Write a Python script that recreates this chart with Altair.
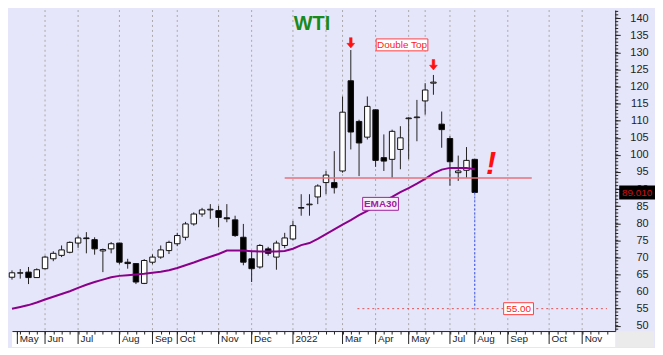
import altair as alt
import pandas as pd

# ---- data (weekly candles) ----
opens  = [64.2, 65.4, 65.7, 64.1, 66.7, 69.6, 70.6, 71.5, 74.2, 75.7,
          75.2, 71.9, 72.5, 74.2, 68.6, 68.2, 62.4, 68.6, 70.1, 72.0,
          74.0, 75.9, 79.8, 82.7, 83.9, 83.7, 81.6, 81.0, 75.9, 69.6,
          67.2, 72.5, 70.1, 73.5, 75.4, 84.4, 85.4, 87.7, 91.9, 91.9,
          95.3, 121.7, 109.8, 105.2, 113.2, 99.2, 98.7, 101.6, 110.6, 110.9,
          115.8, 121.0, 109.0, 104.8, 94.8, 95.5, 98.7]
highs  = [66.2, 66.6, 67.2, 66.8, 70.5, 71.8, 73.5, 74.7, 76.4, 77.4,
          75.9, 72.6, 74.5, 74.3, 69.6, 68.3, 69.5, 70.9, 73.5, 74.9,
          77.2, 80.4, 83.2, 84.5, 85.6, 85.1, 85.6, 82.2, 79.8, 72.0,
          73.9, 73.1, 74.9, 77.2, 80.7, 88.5, 88.5, 91.4, 95.3, 101.1,
          117.1, 130.7, 110.3, 117.1, 113.3, 106.0, 107.4, 108.4, 111.0, 116.1,
          121.0, 123.4, 112.7, 105.5, 99.8, 102.3, 98.9]
lows   = [63.5, 63.8, 62.2, 64.0, 66.5, 68.9, 70.1, 71.2, 72.8, 71.2,
          70.8, 65.7, 71.2, 68.0, 66.7, 62.2, 62.2, 68.0, 69.6, 71.0,
          73.3, 75.0, 79.3, 81.9, 81.3, 78.8, 80.3, 76.0, 67.7, 62.8,
          66.7, 70.5, 66.4, 72.7, 75.0, 82.2, 82.2, 85.6, 88.5, 88.7,
          94.8, 101.6, 93.8, 104.5, 96.5, 95.3, 93.3, 95.8, 98.7, 104.0,
          111.8, 117.6, 102.1, 91.0, 92.4, 93.3, 89.0]
closes = [65.5, 65.5, 64.1, 66.4, 70.1, 71.2, 72.2, 74.4, 75.7, 75.5,
          72.5, 72.3, 74.0, 68.6, 68.2, 62.8, 69.1, 70.1, 72.2, 74.4,
          76.4, 79.8, 82.7, 83.9, 84.1, 81.7, 81.3, 76.4, 68.6, 66.7,
          73.5, 71.2, 74.2, 75.7, 79.3, 84.6, 85.6, 90.9, 94.1, 90.4,
          112.5, 106.7, 103.5, 114.2, 98.4, 98.2, 106.9, 105.0, 110.8, 111.1,
          119.0, 121.3, 107.4, 98.0, 95.3, 98.4, 89.01]
ema30  = [55.0, 55.5, 56.05, 56.8, 57.7, 58.5, 59.3, 60.1, 61.1, 62.0,
          62.8, 63.5, 64.2, 64.6, 64.8, 65.0, 65.2, 65.5, 65.8, 66.25,
          66.9, 67.7, 68.5, 69.4, 70.2, 71.0, 72.0, 72.0, 72.0, 71.8,
          71.75, 71.75, 71.75, 71.9, 72.55, 73.6, 74.2, 75.4, 76.8, 78.2,
          79.6, 80.9, 82.35, 83.65, 85.0, 86.45, 87.7, 89.1, 90.3, 91.6,
          93.0, 94.6, 95.7, 96.2, 96.2, 96.2, 95.8]

month_idx = [0.65, 4, 8, 13, 17, 20, 25, 29, 34, 40, 44, 48, 53, 56, 60, 65, 69]
month_lbl = ["May", "Jun", "Jul", "Aug", "Sep", "Oct", "Nov", "Dec", "2022",
             "Mar", "Apr", "May", "Jul", "Aug", "Sep", "Oct", "Nov"]
grid_idx = [4, 8, 13, 17, 20, 25, 29, 34, 38, 40, 44, 48, 50, 53, 56, 60, 65, 69]
y_major = list(range(50, 145, 5))
y_minor = list(range(49, 143))

support = 93.27          # horizontal neckline
support_span = [33.0, 62.9]
target = 55.0
target_span = [41.8, 72.0]
ema_label = ("EMA30", 44.6, 85.68)
dtop_label = ("Double Top", 47.2, 132.2)
arrow_i = [41, 51]
arrow_v = [132.8, 126.4]
title_pos = ("WTI", 36.3, 136.6)
excl_pos = ("!", 57.97, 94.4)

W, H = 607, 323
n = len(closes)
df = pd.DataFrame({"i": list(range(n)), "o": opens, "h": highs, "l": lows,
                   "c": closes, "ema": ema30})

xs = alt.Scale(domain=[0.6, 72.4], nice=False, zero=False)
ys = alt.Scale(domain=[142.4 - H / 3.438, 142.4], nice=False, zero=False)

expr = "''"
for m, l in reversed(list(zip(month_idx, month_lbl))):
    expr = f"datum.value == {m} ? '{l}' : ({expr})"
xvals = sorted(set([month_idx[0]] + list(range(1, 73))))

FONT = "Liberation Sans"
xaxis = alt.Axis(values=xvals, labelExpr=expr, tickSize=3, tickColor="#222",
                 domainColor="#222", labelAlign="left", labelBaseline="top",
                 labelOffset=2, labelPadding=0, labelFontSize=10, labelFont=FONT,
                 labelColor="#222", labelOverlap=False, labelFlush=False,
                 grid=False, title=None, zindex=1)
yaxis = alt.Axis(orient="right", values=y_major, tickSize=5, labelAlign="right",
                 labelPadding=28, labelFontSize=11, labelFont=FONT,
                 labelColor="#222", domainColor="#222", tickColor="#222",
                 grid=False, title=None, labelBaseline="middle", zindex=0)


def X(f):
    return alt.X(f, type="quantitative", scale=xs, axis=xaxis)


def Y(f):
    return alt.Y(f, type="quantitative", scale=ys, axis=yaxis)


one = pd.DataFrame({"a": [0]})

strip = alt.Chart(one).mark_rect(color="white", clip=False).encode(
    x=alt.value(0), x2=alt.value(W), y=alt.value(H + 0.5), y2=alt.value(H + 16))
corner = alt.Chart(one).mark_rect(color="#EBEBEB", clip=False).encode(
    x=alt.value(W + 1), x2=alt.value(W + 39), y=alt.value(H + 0.5), y2=alt.value(H + 16))

grid = alt.Chart(pd.DataFrame({"g": grid_idx})).mark_rule(
    color="#A8A8A8", strokeDash=[2, 3], strokeWidth=1).encode(x=X("g"))

seps = alt.Chart(pd.DataFrame({"m": month_idx})).mark_rule(
    color="#222", strokeWidth=1, clip=False).encode(
    x=X("m"), y=alt.value(H), y2=alt.value(H + 13))

wicks = alt.Chart(df).mark_rule(color="#222", strokeWidth=1).encode(
    x=X("i"), y=Y("l"), y2="h")
bodies = alt.Chart(df).mark_bar(width=5.5, stroke="#111", strokeWidth=1).encode(
    x=X("i"), y=Y("o"), y2="c",
    fill=alt.condition("datum.c >= datum.o", alt.value("white"), alt.value("black")))

ema = alt.Chart(df).mark_line(color="#8B008B", strokeWidth=2).encode(
    x=X("i"), y=Y("ema"))

sup = alt.Chart(pd.DataFrame({"a": [support_span[0]], "b": [support_span[1]], "v": [support]})).mark_rule(
    color="#E8707A", strokeWidth=1.5).encode(x=X("a"), x2="b", y=Y("v"))

tgt = alt.Chart(pd.DataFrame({"a": [target_span[0]], "b": [target_span[1]], "v": [target]})).mark_rule(
    color="#E05050", strokeWidth=1, strokeDash=[2, 3]).encode(x=X("a"), x2="b", y=Y("v"))

proj = alt.Chart(pd.DataFrame({"i": [n - 1], "a": [closes[-1]], "b": [target]})).mark_rule(
    color="#3050FF", strokeWidth=1, strokeDash=[2, 2]).encode(x=X("i"), y=Y("a"), y2="b")


def box(text, i, v, w, h, stroke, fill, color, size=10, weight="normal"):
    d = pd.DataFrame({"t": [text], "i": [i], "v": [v]})
    r = h / w
    shape = f"M-1,-{r:.4f}H1V{r:.4f}H-1Z"
    b = alt.Chart(d).mark_point(shape=shape, size=w * w, filled=True, fill=fill,
                                stroke=stroke, strokeWidth=1, opacity=1).encode(
        x=X("i"), y=Y("v"))
    t = alt.Chart(d).mark_text(font=FONT, fontSize=size, color=color, fontWeight=weight,
                               align="center", baseline="middle", dy=0.5).encode(
        x=X("i"), y=Y("v"), text="t:N")
    return [b, t]


dtop = box(dtop_label[0], dtop_label[1], dtop_label[2], 52, 12, "#FF4040", "white", "#FF2020", 10)
emab = box(ema_label[0], ema_label[1], ema_label[2], 36, 13, "#A020A0", "#F4EEF8", "#A020A0", 10, "bold")
tgtb = box(f"{target:.2f}", 61.3, target, 30, 12, "#FF4040", "white", "#FF2020", 10)

arrow_path = "M-0.25,-1H0.25V0.1H0.75L0,1L-0.75,0.1H-0.25Z"
arrows = alt.Chart(pd.DataFrame({"i": arrow_i, "v": arrow_v})).mark_point(
    shape=arrow_path, size=110, filled=True, fill="#FF1010", stroke="#FF1010",
    strokeWidth=0.5, opacity=1).encode(x=X("i"), y=Y("v"))

title = alt.Chart(pd.DataFrame({"t": [title_pos[0]], "i": [title_pos[1]], "v": [title_pos[2]]})).mark_text(
    font=FONT, fontSize=20, fontWeight="bold", color="#1A8A1A", align="center",
    baseline="alphabetic").encode(x=X("i"), y=Y("v"), text="t:N")

excl = alt.Chart(pd.DataFrame({"t": [excl_pos[0]], "i": [excl_pos[1]], "v": [excl_pos[2]]})).mark_text(
    font=FONT, fontSize=31, fontWeight="bold", fontStyle="italic", color="#FF1010",
    align="center", baseline="alphabetic").encode(x=X("i"), y=Y("v"), text="t:N")

minor = alt.Chart(pd.DataFrame({"t": y_minor})).mark_rule(
    color="#222", strokeWidth=1, clip=False).encode(
    y=Y("t"), x=alt.value(W), x2=alt.value(W + 3))

last = pd.DataFrame({"t": [f"{closes[-1]:.3f}"], "v": [closes[-1]]})
pw = 36
pbox = alt.Chart(last).mark_point(shape=f"M-1,-{14 / pw:.4f}H1V{14 / pw:.4f}H-1Z", size=pw * pw,
                                  filled=True, fill="black", stroke="black", strokeWidth=0,
                                  opacity=1, clip=False).encode(
    x=alt.value(W + 22), y=Y("v"))
ptxt = alt.Chart(last).mark_text(font=FONT, fontSize=10, color="#D01010", align="center",
                                 baseline="middle", dy=0.5).encode(
    x=alt.value(W + 22), y=Y("v"), text="t:N")

layers = [strip, corner, grid, seps, wicks, bodies, ema, sup, tgt, proj] + dtop + emab + tgtb + \
         [arrows, title, excl, minor, pbox, ptxt]

chart = alt.layer(*layers).properties(
    width=W, height=H, padding=0, background="#E6E6FA"
).configure_view(stroke=None, fill="#E6E6FA")

chart.save("out.html", embed_options={"renderer": "svg", "actions": False})
